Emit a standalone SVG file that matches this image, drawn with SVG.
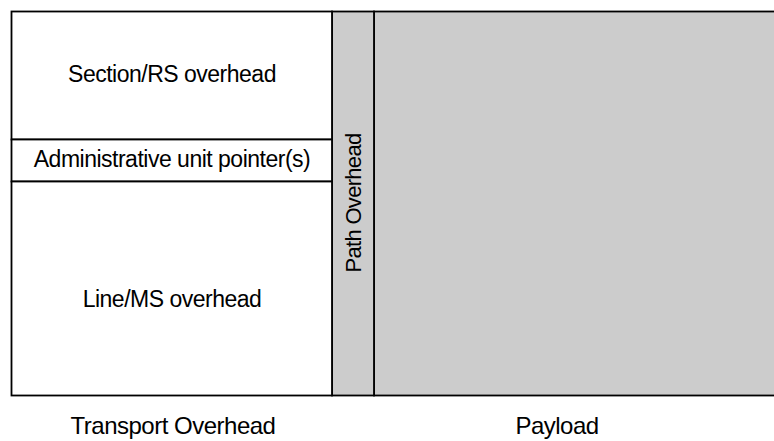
<svg xmlns="http://www.w3.org/2000/svg" width="774" height="441" viewBox="0 0 774 441">
<style>
.box{stroke:#000;stroke-width:1.8;}
.w{fill:#fff;}
.g{fill:#cccccc;}
.t{font-family:"Liberation Sans",Arial,sans-serif;font-size:23px;letter-spacing:-0.5px;fill:#000;text-anchor:middle;}
.b{font-size:24px;}
.p{font-size:22px;letter-spacing:-0.7px;}
</style>
<rect x="0" y="0" width="774" height="441" fill="#fff"/>
<g id="payload">
<rect class="box g" x="374" y="11.5" width="410" height="384"/>
</g>
<g id="path-overhead">
<rect class="box g" x="332" y="11.5" width="42" height="384"/>
<text class="t p" transform="translate(361,203) rotate(-90)">Path Overhead</text>
</g>
<g id="section-overhead">
<rect class="box w" x="11.5" y="11.5" width="320.5" height="128"/>
<text class="t" x="172" y="82">Section/RS overhead</text>
</g>
<g id="au-pointer">
<rect class="box w" x="11.5" y="139.5" width="320.5" height="42"/>
<text class="t" x="172" y="167">Administrative unit pointer(s)</text>
</g>
<g id="line-overhead">
<rect class="box w" x="11.5" y="181.5" width="320.5" height="214"/>
<text class="t" x="172" y="307">Line/MS overhead</text>
</g>
<g id="labels">
<text class="t b" x="173" y="434">Transport Overhead</text>
<text class="t b" x="557" y="434">Payload</text>
</g>
<g id="connectors"></g>
</svg>
